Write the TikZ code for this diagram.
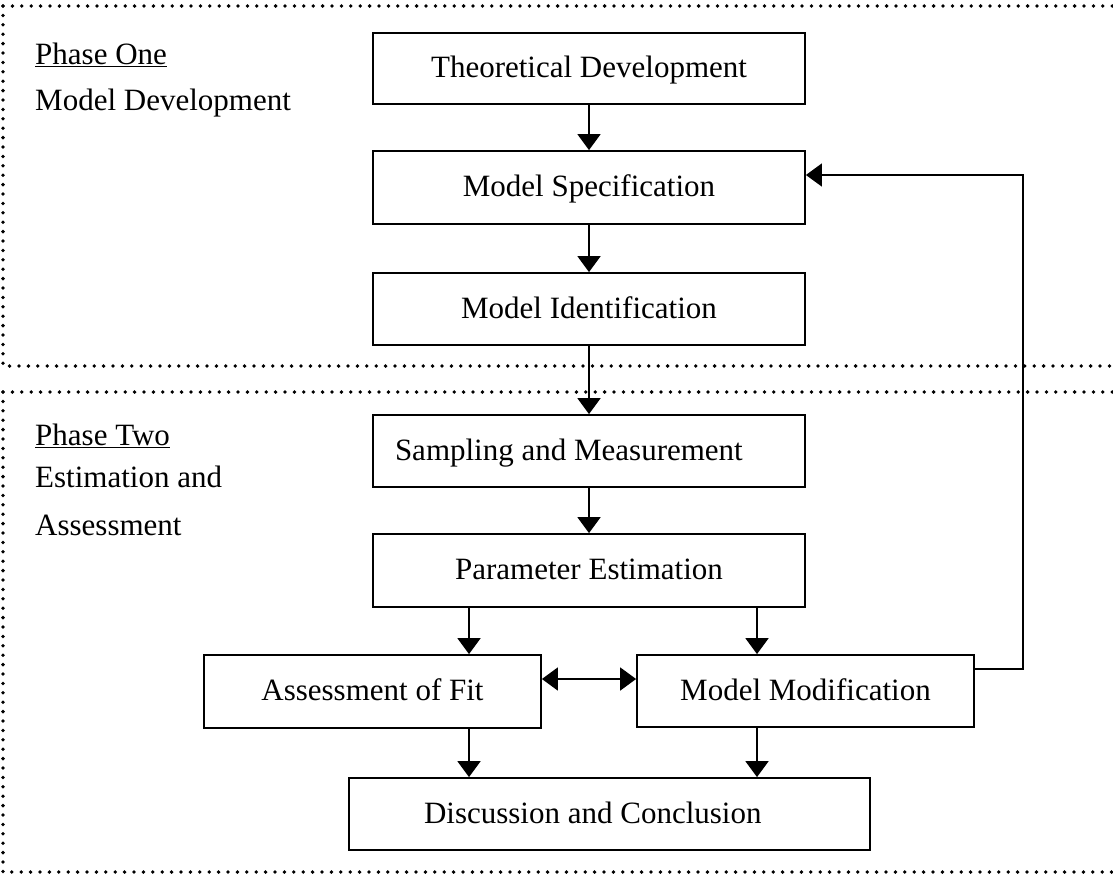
\documentclass[tikz,border=0pt]{standalone}
\usepackage{fontspec}
\setmainfont{Liberation Serif}
\usetikzlibrary{arrows.meta}
\begin{document}
\begin{tikzpicture}[x=1pt,y=-1pt,
  every node/.style={font=\fontsize{31}{37}\selectfont},
  stage/.style={draw, line width=1.8pt, inner sep=0pt,
    text height=24.8pt, text depth=6.8pt, align=center},
  flow/.style={line width=1.8pt, -{Triangle[width=23pt,length=16pt]}},
  twoway/.style={line width=1.8pt,
    {Triangle[width=23pt,length=16pt]}-{Triangle[width=23pt,length=16pt]}},
  feedback/.style={line width=1.4pt, -{Triangle[width=23pt,length=16pt]}},
  phase/.style={line width=3.8pt, line cap=round, dash pattern=on 0pt off 9.4pt},
  sidetext/.style={anchor=base west, inner sep=0pt}]
\useasboundingbox (0,0) rectangle (1113,873);
\clip (0,0) rectangle (1113,873);

% phase frames (open on the right)
\draw[phase] (3,6) -- (1125,6);
\draw[phase] (3,6) -- (3,366) -- (1125,366);
\draw[phase] (3,392) -- (1125,392);
\draw[phase] (3,392) -- (3,872) -- (1125,872);

% phase labels
\node[sidetext] (p1title) at (35,64) {\underline{Phase One}};
\node[sidetext] (p1name) at (35,110) {Model Development};
\node[sidetext] (p2title) at (35,445) {\underline{Phase Two}};
\node[sidetext] (p2a) at (35,487) {Estimation and};
\node[sidetext] (p2b) at (35,535) {Assessment};

% stages
\node[stage, minimum width=432pt, minimum height=71pt] (theory) at (589,68.5) {Theoretical Development};
\node[stage, minimum width=432pt, minimum height=73pt] (spec) at (589,187.5) {Model Specification};
\node[stage, minimum width=432pt, minimum height=72pt] (ident) at (589,309) {Model Identification};
\node[stage, minimum width=432pt, minimum height=72pt, inner xsep=22pt,
      text width=388pt, align=flush left] (sample) at (589,451) {Sampling and Measurement};
\node[stage, minimum width=432pt, minimum height=73pt] (param) at (589,570.5) {Parameter Estimation};
\node[stage, minimum width=337pt, minimum height=73pt] (fit) at (372.5,691.5) {Assessment of Fit};
\node[stage, minimum width=337pt, minimum height=72pt] (modif) at (805.5,691) {Model Modification};
\node[stage, minimum width=521pt, minimum height=72pt, inner xsep=75pt,
      text width=371pt, align=flush left] (disc) at (609.5,814) {Discussion and Conclusion};

% connectors
\draw[flow] (theory) -- (spec);
\draw[flow] (spec) -- (ident);
\draw[flow] (ident) -- (sample);
\draw[flow] (sample) -- (param);
\draw[flow] (469,0 |- param.south) -- (469,0 |- fit.north);
\draw[flow] (757,0 |- param.south) -- (757,0 |- modif.north);
\draw[twoway] (fit.east |- 0,679) -- (modif.west |- 0,679);
\draw[flow] (469,0 |- fit.south) -- (469,0 |- disc.north);
\draw[flow] (757,0 |- modif.south) -- (757,0 |- disc.north);
\coordinate (loopcorner) at (1023,175);
\draw[feedback] (modif.east |- 0,669) -| (loopcorner) -- (spec.east |- loopcorner);
\end{tikzpicture}
\end{document}
